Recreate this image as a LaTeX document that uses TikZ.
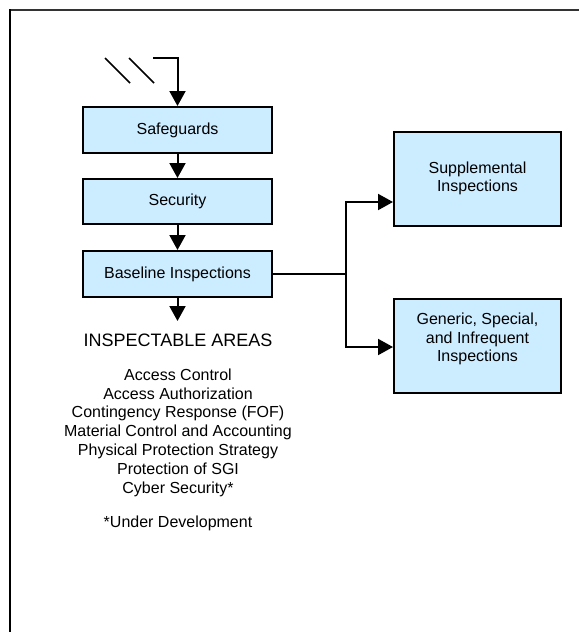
\documentclass[tikz,border=0pt]{standalone}
\usepackage{fontspec}
\setmainfont{Liberation Sans}
\usetikzlibrary{arrows.meta}
\definecolor{boxblue}{HTML}{CCECFF}
\begin{document}
\begin{tikzpicture}[x=1pt,y=-1pt,
  box/.style={draw=black,line width=2pt,fill=boxblue,inner sep=0pt},
  boxtext/.style={font=\fontsize{16}{18.5}\selectfont,align=center,inner sep=0pt},
  conn/.style={line width=2pt,-{Triangle[width=16pt,length=15pt]}},
  plain/.style={line width=1.5pt}]
\useasboundingbox (0,0) rectangle (579,632);
% frame
\draw[line width=1.6pt,black!80] (9,10) -- (579,10);
\draw[line width=2.3pt] (10,9) -- (10,632);
% left column boxes
\node[box,minimum width=189pt,minimum height=46pt] (safe) at (177.5,130) {};
\node[boxtext] (safet) at (177.5,130) {Safeguards};
\node[box,minimum width=189pt,minimum height=45pt] (sec) at (177.5,201.5) {};
\node[boxtext] (sect) at (177.5,201.5) {Security};
\node[box,minimum width=189pt,minimum height=46pt] (base) at (177.5,274) {};
\node[boxtext] (baset) at (177.5,274) {Baseline Inspections};
% right boxes
\node[box,minimum width=167pt,minimum height=94pt] (supp) at (477.5,179) {};
\node[boxtext] (suppt) at (477.5,178.5) {Supplemental\\Inspections};
\node[box,minimum width=167pt,minimum height=94pt] (gen) at (477.5,346) {};
\node[boxtext] (gent) at (477.5,339) {Generic, Special,\\and Infrequent\\Inspections};
% incoming feed lines
\draw[plain] (105,58) -- (130,83);
\draw[plain] (129,58) -- (154,83);
\coordinate (feed) at (153,58);
\draw[conn] (feed) -- (safe.north |- feed) -- (safe.north);
% vertical chain
\draw[conn] (safe.south) -- (sec.north);
\draw[conn] (sec.south) -- (base.north);
\coordinate (areastip) at (177.5,321);
\draw[conn] (base.south) -- (areastip);
% branch
\coordinate (split) at (346,274);
\draw[plain] (base.east) -- (split);
\draw[conn] (split) |- ([yshift=-23pt]supp.west);
\draw[conn] (split) |- ([yshift=-1pt]gen.west);
% text
\node[inner sep=0pt,font=\fontsize{18}{20}\selectfont] (areas) at (178,340) {INSPECTABLE AREAS};
\node[inner sep=0pt,align=center,font=\fontsize{16}{18.8}\selectfont] (list) at (178,432.5)
 {Access Control\\Access Authorization\\Contingency Response (FOF)\\Material Control and Accounting\\Physical Protection Strategy\\Protection of SGI\\Cyber Security*};
\node[inner sep=0pt,font=\fontsize{16}{18.8}\selectfont] (note) at (178,523) {*Under Development};
\end{tikzpicture}
\end{document}
